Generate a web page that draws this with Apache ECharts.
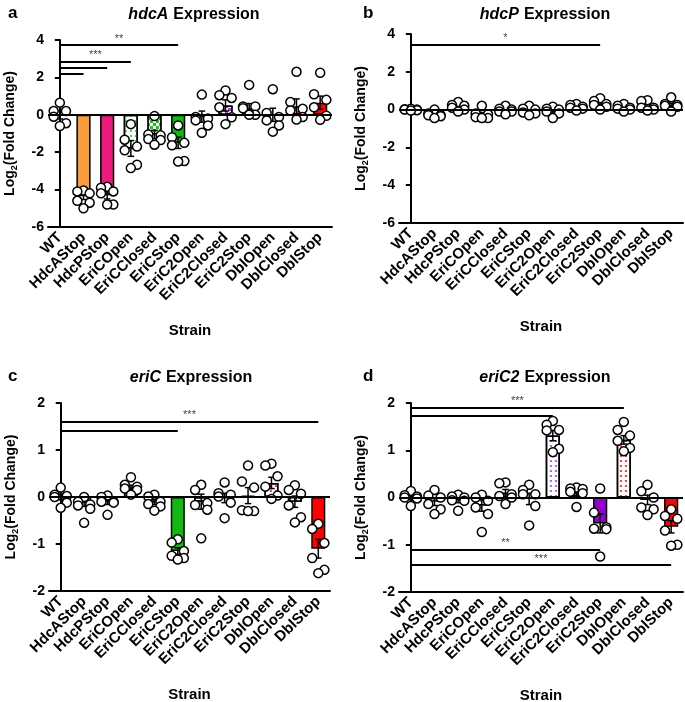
<!DOCTYPE html>
<html>
<head>
<meta charset="utf-8">
<script src="https://cdn.jsdelivr.net/npm/echarts@6/dist/echarts.min.js"></script>
<style>
  html, body { margin: 0; padding: 0; background: #fff; }
  #chart { width: 685px; height: 702px; }
</style>
</head>
<body>
<div id="chart"></div>
<script>
// strains (x categories, same in all four panels)
var strains = ['WT', 'HdcAStop', 'HdcPStop', 'EriCOpen', 'EriCClosed', 'EriCStop',
    'EriC2Open', 'EriC2Closed', 'EriC2Stop', 'DblOpen', 'DblClosed', 'DblStop'];

// a - hdcA
var hdcAMean = [0.0, -4.35, -4.3, -1.8, -1.05, -1.5, -0.1, 0.5, 0.35, 0.0, 0.45, 0.65];
var hdcASem = [0.22, 0.18, 0.2, 0.42, 0.22, 0.3, 0.3, 0.3, 0.25, 0.35, 0.4, 0.35];
var hdcAPoints = [
    [0.65, 0.2, 0.2, -0.1, -0.45, -0.6],
    [-4.05, -4.1, -4.2, -4.6, -4.7, -5.0],
    [-3.85, -3.9, -4.1, -4.2, -4.8, -4.8],
    [-0.5, -1.33, -1.7, -1.9, -2.67, -2.85],
    [-0.07, -1.05, -1.1, -1.3, -1.35, -1.6],
    [-0.57, -1.2, -1.5, -1.63, -2.47, -2.5],
    [1.08, -0.12, -0.2, -0.3, -0.57, -0.96],
    [1.3, 1.05, 0.9, 0.4, -0.13, -0.5],
    [1.6, 0.45, 0.45, 0.35, 0.0, 0.0],
    [1.37, 0.1, -0.12, -0.3, -0.57, -0.9],
    [2.3, 0.68, 0.32, 0.23, -0.12, -0.25],
    [2.25, 1.1, 0.8, 0.4, -0.05, -0.27]
];
var hdcASig = [
    { from: 'WT', to: 'EriCStop', level: 3.73, text: '**' },
    { from: 'WT', to: 'EriCOpen', level: 2.83, text: '***' },
    { from: 'WT', to: 'HdcPStop', level: 2.5, text: '' },
    { from: 'WT', to: 'HdcAStop', level: 2.19, text: '' }
];

// b - hdcP
var hdcPMean = [0.0, -0.27, 0.14, -0.26, -0.03, -0.07, -0.09, 0.13, 0.29, 0.09, 0.18, 0.24];
var hdcPSem = [0.03, 0.07, 0.08, 0.1, 0.07, 0.08, 0.09, 0.05, 0.08, 0.06, 0.1, 0.1];
var hdcPPoints = [
    [0.05, 0.02, 0.0, 0.0, -0.03, -0.05],
    [0.0, -0.2, -0.3, -0.3, -0.35, -0.45],
    [0.4, 0.25, 0.2, 0.1, 0.0, -0.1],
    [0.2, -0.2, -0.25, -0.4, -0.45, -0.45],
    [0.2, 0.05, 0.0, -0.1, -0.1, -0.25],
    [0.2, 0.05, 0.0, -0.15, -0.2, -0.3],
    [0.15, 0.05, 0.0, -0.1, -0.2, -0.45],
    [0.3, 0.25, 0.15, 0.1, 0.05, -0.05],
    [0.6, 0.45, 0.3, 0.25, 0.15, 0.0],
    [0.3, 0.2, 0.1, 0.05, 0.0, -0.1],
    [0.5, 0.45, 0.1, 0.1, 0.0, -0.05],
    [0.65, 0.3, 0.25, 0.2, 0.15, -0.1]
];
var hdcPSig = [
    { from: 'WT', to: 'EriC2Stop', level: 3.44, text: '*' }
];

// c - eriC
var eriCMean = [0.0, -0.12, -0.1, 0.2, -0.11, -1.15, -0.1, -0.02, 0.03, 0.3, -0.1, -1.1];
var eriCSem = [0.06, 0.08, 0.06, 0.05, 0.05, 0.07, 0.16, 0.1, 0.17, 0.12, 0.12, 0.2];
var eriCPoints = [
    [0.2, 0.05, 0.02, 0.0, -0.12, -0.23],
    [0.0, -0.1, -0.16, -0.18, -0.25, -0.55],
    [0.03, 0.0, -0.1, -0.1, -0.12, -0.38],
    [0.42, 0.26, 0.22, 0.18, 0.15, 0.05],
    [0.05, 0.01, -0.1, -0.15, -0.2, -0.29],
    [-0.9, -0.97, -1.15, -1.25, -1.3, -1.33],
    [0.26, 0.15, -0.13, -0.17, -0.27, -0.88],
    [0.31, 0.08, 0.05, 0.01, -0.12, -0.45],
    [0.67, 0.33, 0.2, -0.28, -0.3, -0.3],
    [0.71, 0.67, 0.44, 0.22, 0.03, -0.04],
    [0.25, 0.15, 0.07, -0.18, -0.43, -0.54],
    [-0.57, -0.68, -0.98, -1.3, -1.55, -1.62]
];
var eriCSig = [
    { from: 'WT', to: 'DblStop', level: 1.6, text: '***' },
    { from: 'WT', to: 'EriCStop', level: 1.41, text: '' }
];

// d - eriC2
var eriC2Mean = [0.0, -0.09, -0.06, -0.17, 0.1, -0.03, 1.31, 0.1, -0.55, 1.22, -0.05, -0.62];
var eriC2Sem = [0.05, 0.08, 0.05, 0.12, 0.07, 0.12, 0.11, 0.06, 0.2, 0.09, 0.1, 0.13];
var eriC2Points = [
    [0.14, 0.05, 0.02, 0.0, -0.02, -0.18],
    [0.16, 0.04, 0.0, -0.14, -0.25, -0.35],
    [0.06, 0.02, 0.0, -0.06, -0.07, -0.28],
    [0.06, 0.0, -0.07, -0.21, -0.35, -0.73],
    [0.32, 0.3, 0.07, 0.03, 0.0, -0.14],
    [0.27, 0.16, 0.07, 0.07, -0.18, -0.59],
    [1.62, 1.54, 1.43, 1.42, 1.03, 0.96],
    [0.21, 0.19, 0.18, 0.12, 0.09, -0.2],
    [0.19, -0.32, -0.63, -0.66, -0.67, -1.25],
    [1.6, 1.43, 1.31, 1.2, 1.05, 0.98],
    [0.27, 0.13, 0.0, -0.21, -0.25, -0.37],
    [-0.25, -0.39, -0.45, -0.7, -1.0, -1.02]
];
var eriC2Sig = [
    { from: 'WT', to: 'DblOpen', level: 1.91, text: '***' },
    { from: 'WT', to: 'EriC2Open', level: 1.74, text: '' },
    { from: 'WT', to: 'EriC2Stop', level: -1.11, text: '**' },
    { from: 'WT', to: 'DblStop', level: -1.43, text: '***' }
];

// ---- styles ----
var FONT = '"Liberation Sans", Arial, sans-serif';
var fills = ['#ffffff', '#f99d3b', '#ed1a7d', '#ffffff', '#22c022', '#12b912',
    '#ffffff', '#a43ad8', '#9500cf', '#ffffff', '#ff2020', '#ff0000'];

function dots(c) {
    return { symbol: 'rect', symbolSize: 1, color: c, dashArrayX: [1.2, 2.8], dashArrayY: [1.2, 2.8] };
}
function checker() {
    return { symbol: 'rect', symbolSize: 1, color: '#ffffff',
        dashArrayX: [[3, 3], [0, 3, 3, 0]], dashArrayY: [3, 0] };
}
var decals = [null, null, null, dots('#4ccf4c'), checker(), null,
    dots('#c060e6'), checker(), null, dots('#ff4040'), checker(), null];

// which panel goes where
var panels = [
    { label: 'a', gene: 'hdcA', mean: hdcAMean, sem: hdcASem, pts: hdcAPoints, sig: hdcASig,
      grid: { left: 48, top: 40, width: 284, height: 187 }, min: -6, max: 4, step: 2, titleX: 189, titleY: 1 },
    { label: 'b', gene: 'hdcP', mean: hdcPMean, sem: hdcPSem, pts: hdcPPoints, sig: hdcPSig,
      grid: { left: 399, top: 34, width: 284, height: 189 }, min: -6, max: 4, step: 2, titleX: 540, titleY: 1 },
    { label: 'c', gene: 'eriC', mean: eriCMean, sem: eriCSem, pts: eriCPoints, sig: eriCSig,
      grid: { left: 49, top: 403, width: 281, height: 188 }, min: -2, max: 2, step: 1, titleX: 186, titleY: 364 },
    { label: 'd', gene: 'eriC2', mean: eriC2Mean, sem: eriC2Sem, pts: eriC2Points, sig: eriC2Sig,
      grid: { left: 399, top: 403, width: 284, height: 189 }, min: -2, max: 2, step: 1, titleX: 540, titleY: 364 }
];

var spread = [0, -1, 1, -1, 1, 0];

var option = {
    backgroundColor: '#fff',
    animation: false,
    textStyle: { fontFamily: FONT },
    title: [], grid: [], xAxis: [], yAxis: [], series: []
};

panels.forEach(function (p, n) {
    option.title.push({
        text: p.label, left: p.grid.left < 200 ? 3 : 358, top: p.titleY - 1,
        textStyle: { fontFamily: FONT, fontSize: 17, fontWeight: 'bold', color: '#000' }
    });
    option.title.push({
        text: '{i|' + p.gene + '} {n|Expression}', left: p.titleX, top: p.titleY, textAlign: 'center',
        textStyle: {
            rich: {
                i: { fontFamily: FONT, fontSize: 16, fontWeight: 'bold', fontStyle: 'italic', color: '#000' },
                n: { fontFamily: FONT, fontSize: 16, fontWeight: 'bold', color: '#000' }
            }
        }
    });
    var g = Object.assign({ outerBoundsMode: 'none', containLabel: false }, p.grid);
    option.grid.push(g);

    option.xAxis.push({
        type: 'category', gridIndex: n, data: strains,
        name: 'Strain', nameLocation: 'middle', nameGap: 96,
        nameTextStyle: { fontFamily: FONT, fontSize: 15, fontWeight: 'bold', color: '#000' },
        axisLine: { onZero: false, lineStyle: { color: '#000', width: 2 } },
        axisTick: { alignWithLabel: true, length: 5, lineStyle: { width: 2, color: '#000' } },
        axisLabel: { interval: 0, rotate: 45, margin: 8, fontFamily: FONT, fontSize: 15, fontWeight: 'bold', color: '#000' }
    });
    option.xAxis.push({ type: 'value', gridIndex: n, show: false, min: -0.5, max: 11.5 });

    option.yAxis.push({
        type: 'value', gridIndex: n, min: p.min, max: p.max, interval: p.step,
        name: '{n|Log}{s|2}{n|(Fold Change)}', nameLocation: 'middle', nameGap: 29,
        nameTextStyle: {
            rich: {
                n: { fontFamily: FONT, fontSize: 14, fontWeight: 'bold', color: '#000' },
                s: { fontFamily: FONT, fontSize: 9, fontWeight: 'bold', color: '#000', padding: [8, 0, 0, 0] }
            }
        },
        splitLine: { show: false },
        axisLine: { show: true, lineStyle: { color: '#000', width: 2 } },
        axisTick: { show: true, length: 5, lineStyle: { width: 2, color: '#000' } },
        axisLabel: { margin: 4, fontFamily: FONT, fontSize: 14, fontWeight: 'bold', color: '#000' }
    });

    var lines = [{ yAxis: 0, label: { show: false } }];
    p.sig.forEach(function (s) {
        lines.push([
            { coord: [s.from, s.level], label: { show: !!s.text, formatter: s.text } },
            { coord: [s.to, s.level] }
        ]);
    });

    option.series.push({
        type: 'bar', xAxisIndex: 2 * n, yAxisIndex: n, barWidth: '60%', z: 2,
        data: p.mean.map(function (v, i) {
            var st = { color: fills[i], borderColor: '#000', borderWidth: 1.5 };
            if (decals[i]) st.decal = decals[i];
            return { value: v, itemStyle: st };
        }),
        markLine: {
            silent: true, symbol: ['none', 'none'], animation: false,
            lineStyle: { color: '#000', width: 2, type: 'solid' },
            label: { position: 'middle', distance: 1, fontFamily: FONT, fontSize: 11, color: '#444' },
            data: lines
        }
    });

    option.series.push({
        type: 'custom', xAxisIndex: 2 * n, yAxisIndex: n, z: 3,
        data: p.mean.map(function (v, i) { return [i, v, p.sem[i]]; }),
        renderItem: function (params, api) {
            var i = api.value(0), m = api.value(1), e = api.value(2);
            var hi = api.coord([i, m + e]), lo = api.coord([i, m - e]);
            var half = api.size([1, 0])[0] * 0.14;
            var st = { stroke: '#000', lineWidth: 1.5 };
            return {
                type: 'group', children: [
                    { type: 'line', shape: { x1: hi[0], y1: hi[1], x2: lo[0], y2: lo[1] }, style: st },
                    { type: 'line', shape: { x1: hi[0] - half, y1: hi[1], x2: hi[0] + half, y2: hi[1] }, style: st },
                    { type: 'line', shape: { x1: lo[0] - half, y1: lo[1], x2: lo[0] + half, y2: lo[1] }, style: st }
                ]
            };
        }
    });

    var sc = [];
    p.pts.forEach(function (grp, i) {
        grp.forEach(function (v, k) {
            sc.push([i + spread[k % spread.length] * 0.26, v]);
        });
    });
    option.series.push({
        type: 'scatter', xAxisIndex: 2 * n + 1, yAxisIndex: n, z: 4,
        symbol: 'circle', symbolSize: 9,
        itemStyle: { color: '#fff', borderColor: '#000', borderWidth: 1.5, opacity: 1 },
        data: sc
    });
});

var chart = echarts.init(document.getElementById('chart'), null, { renderer: 'canvas' });
chart.setOption(option);
</script>
</body>
</html>
